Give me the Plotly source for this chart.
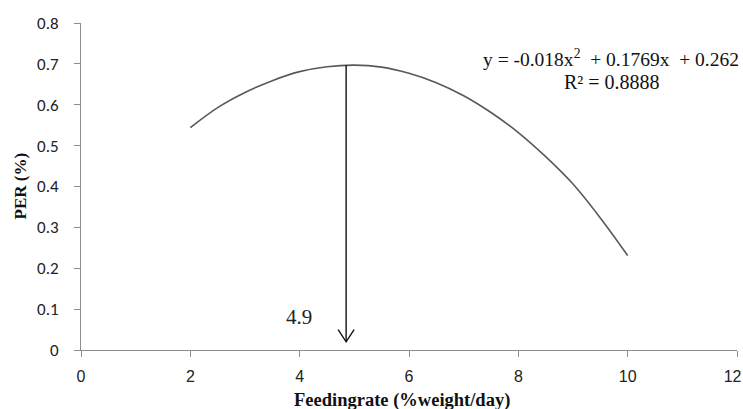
import plotly.graph_objects as go

# Values (fitted PER curve)
feeding_rate = [2, 2.5, 3, 3.5, 4, 4.5, 5, 5.5, 6, 6.5, 7, 7.5, 8, 8.5, 9, 9.5, 10]
per = [0.544, 0.593, 0.630, 0.659, 0.681, 0.693, 0.697, 0.692, 0.677, 0.654, 0.622, 0.581, 0.532, 0.473, 0.406, 0.323, 0.231]

x_ticks = [0, 2, 4, 6, 8, 10, 12]
x_tick_labels = ["0", "2", "4", "6", "8", "10", "12"]
y_ticks = [0, 0.1, 0.2, 0.3, 0.4, 0.5, 0.6, 0.7, 0.8]
y_tick_labels = ["0", "0.1", "0.2", "0.3", "0.4", "0.5", "0.6", "0.7", "0.8"]

optimum_x = 4.85
optimum_top = 0.697
arrow_tip = 0.02
head_dx = 0.146
head_dy = 0.03

fig = go.Figure()
fig.add_trace(go.Scatter(x=feeding_rate, y=per, mode="lines",
                         line=dict(color="#595959", width=1.6, shape="spline"),
                         hoverinfo="skip", showlegend=False))
# vertical arrow with open V head
fig.add_trace(go.Scatter(
    x=[optimum_x, optimum_x, None, optimum_x - head_dx, optimum_x, optimum_x + head_dx],
    y=[optimum_top, arrow_tip, None, arrow_tip + head_dy, arrow_tip, arrow_tip + head_dy],
    mode="lines", line=dict(color="#111111", width=1.4), hoverinfo="skip", showlegend=False))

serif = "Liberation Serif, Times New Roman, serif"
fig.add_annotation(x=3.98, y=0.08, text="4.9", showarrow=False,
                   font=dict(family=serif, size=21, color="#222222"))
fig.add_annotation(x=12, xanchor="right", xshift=4, y=0.714, yanchor="middle",
                   text="y = -0.018x<sup>2</sup>  + 0.1769x  + 0.262", showarrow=False,
                   font=dict(family=serif, size=19.5, color="#111111"))
fig.add_annotation(x=9.72, y=0.655, yanchor="middle", text="R² = 0.8888", showarrow=False,
                   font=dict(family=serif, size=20, color="#111111"))

# axis titles
fig.add_annotation(xref="paper", yref="paper", x=0.5, xshift=-7, y=0, yanchor="middle", yshift=-50,
                   text="<b>Feedingrate (%weight/day)</b>", showarrow=False,
                   font=dict(family=serif, size=18.5, color="#111111"))
fig.add_annotation(xref="paper", yref="paper", x=0, xanchor="center", xshift=-61, y=0.5,
                   textangle=-90, text="<b>PER (%)</b>", showarrow=False,
                   font=dict(family=serif, size=17, color="#111111"))

# last x label pulled slightly inward so it stays inside the window, as in the reference
x_tick_text = x_tick_labels[:-1] + [x_tick_labels[-1] + "&nbsp;&nbsp;"]

fig.update_layout(
    width=743, height=409,
    margin=dict(l=81, r=6, t=23, b=59),
    paper_bgcolor="white", plot_bgcolor="white",
    xaxis=dict(range=[0, 12], tickvals=x_ticks, ticktext=x_tick_text,
               automargin=False, ticklabeloverflow="allow",
               showgrid=False, zeroline=False, showline=True, linecolor="#8c8c8c", linewidth=1,
               ticks="outside", ticklen=6, tickcolor="#8c8c8c", ticklabelstandoff=6,
               tickfont=dict(family="Liberation Sans", size=16, color="#222222")),
    yaxis=dict(range=[0, 0.8], tickvals=y_ticks, ticktext=y_tick_labels,
               automargin=False, ticklabeloverflow="allow",
               showgrid=False, zeroline=False, showline=True, linecolor="#8c8c8c", linewidth=1,
               ticks="outside", ticklen=6, tickcolor="#8c8c8c", ticklabelstandoff=12,
               tickfont=dict(family="Carlito, Open Sans, Liberation Sans", size=17, color="#222222")),
)

# remove the default page margin so the 743x409 figure fills the window exactly
fig.write_html("out.html", config={"displayModeBar": False},
               post_script="document.body.style.margin='0px';document.body.style.overflow='hidden';")
